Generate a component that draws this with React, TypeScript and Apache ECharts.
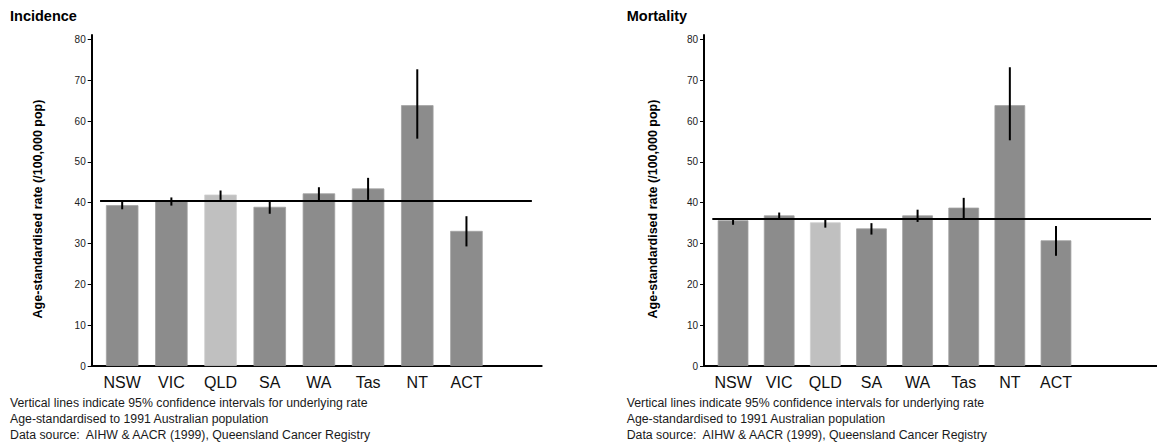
import React, { useEffect, useRef } from "react";
import * as echarts from "echarts";

const states = ["NSW", "VIC", "QLD", "SA", "WA", "Tas", "NT", "ACT"];
const highlightState = "QLD";

const incidenceRate = [39.4, 40.5, 42.0, 39.0, 42.3, 43.5, 63.9, 33.1];
const incidenceLow = [38.4, 39.3, 40.7, 37.3, 40.6, 40.7, 55.7, 29.3];
const incidenceHigh = [40.4, 41.3, 43.0, 40.2, 43.8, 46.1, 72.7, 36.7];
const incidenceAverage = 40.4;

const mortalityRate = [35.7, 36.9, 35.2, 33.7, 36.9, 38.8, 63.9, 30.8];
const mortalityLow = [34.6, 35.8, 33.9, 32.2, 35.3, 36.2, 55.3, 27.0];
const mortalityHigh = [36.2, 37.6, 36.1, 35.0, 38.3, 41.2, 73.2, 34.3];
const mortalityAverage = 36.0;

const yTicks = [0, 10, 20, 30, 40, 50, 60, 70, 80];

const panelTitles = ["Incidence", "Mortality"];
const yAxisTitle = "Age-standardised rate (/100,000 pop)";
const footnotes = [
  "Vertical lines indicate 95% confidence intervals for underlying rate",
  "Age-standardised to 1991 Australian population",
  "Data source:  AIHW & AACR (1999), Queensland Cancer Registry",
];

const FONT = "'Liberation Sans', Arial, Helvetica, sans-serif";
const DARK = "#8c8c8c";
const LIGHT = "#c0c0c0";

export default function App() {
  const ref = useRef<HTMLDivElement>(null);

  useEffect(() => {
    document.body.style.margin = "0";
    if (!ref.current) return;
    const chart = echarts.init(ref.current, null, { renderer: "svg" });

    const panels = [
      {
        rate: incidenceRate,
        low: incidenceLow,
        high: incidenceHigh,
        avg: incidenceAverage,
        grid: { left: 91.7, top: 35, width: 450, height: 331 },
        xMin: -0.62,
        xMax: 8.53,
        avgFrom: -0.45,
        avgTo: 8.33,
        barWidth: 32.5,
        titleX: 10,
        yTitleX: 38,
        noteX: 10,
      },
      {
        rate: mortalityRate,
        low: mortalityLow,
        high: mortalityHigh,
        avg: mortalityAverage,
        grid: { left: 704, top: 35, width: 453, height: 331 },
        xMin: -0.63,
        xMax: 9.19,
        avgFrom: -0.45,
        avgTo: 9.06,
        barWidth: 30.7,
        titleX: 626.7,
        yTitleX: 653,
        noteX: 626.7,
      },
    ];

    const grids: any[] = [];
    const xAxes: any[] = [];
    const yAxes: any[] = [];
    const series: any[] = [];
    const graphics: any[] = [];

    panels.forEach((p, k) => {
      grids.push({ ...p.grid, containLabel: false });
      xAxes.push({
        type: "value",
        gridIndex: k,
        min: p.xMin,
        max: p.xMax,
        axisLine: { show: true, onZero: false, lineStyle: { color: "#000", width: 2 } },
        axisTick: { show: false },
        splitLine: { show: false },
        axisLabel: {
          customValues: states.map((_, i) => i),
          formatter: (v: number) => states[Math.round(v)] ?? "",
          fontSize: 16,
          color: "#111",
          fontFamily: FONT,
          margin: 8,
        },
      });
      yAxes.push({
        type: "value",
        gridIndex: k,
        min: 0,
        max: 81.1,
        axisLine: { show: true, onZero: false, lineStyle: { color: "#000", width: 2 } },
        axisTick: {
          show: true,
          customValues: yTicks,
          length: 4,
          lineStyle: { color: "#000", width: 1 },
        },
        splitLine: { show: false },
        axisLabel: {
          customValues: yTicks,
          fontSize: 10,
          color: "#222",
          fontFamily: FONT,
          margin: 6,
        },
      });
      series.push({
        type: "bar",
        xAxisIndex: k,
        yAxisIndex: k,
        barWidth: p.barWidth,
        data: states.map((s, i) => ({
          value: [i, p.rate[i]],
          itemStyle: {
            color: s === highlightState ? LIGHT : DARK,
            borderColor: s === highlightState ? "#cfcfcf" : "#a2a2a2",
            borderWidth: 0.8,
          },
        })),
      });
      series.push({
        type: "line",
        xAxisIndex: k,
        yAxisIndex: k,
        symbol: "none",
        lineStyle: { color: "#000", width: 2 },
        data: [
          [p.avgFrom, p.avg],
          [p.avgTo, p.avg],
        ],
        z: 3,
      });
      series.push({
        type: "custom",
        xAxisIndex: k,
        yAxisIndex: k,
        encode: { x: 0, y: [1, 2] },
        data: states.map((_, i) => [i, p.low[i], p.high[i]]),
        renderItem: (params: any, api: any) => {
          const a = api.coord([api.value(0), api.value(1)]);
          const b = api.coord([api.value(0), api.value(2)]);
          return {
            type: "line",
            shape: { x1: a[0], y1: a[1], x2: b[0], y2: b[1] },
            style: { stroke: "#000", lineWidth: 2 },
          };
        },
        z: 4,
      });

      graphics.push({
        type: "text",
        left: p.titleX,
        top: 8,
        style: {
          text: panelTitles[k],
          fontSize: 14.5,
          fontWeight: "bold",
          fontFamily: FONT,
          fill: "#000",
        },
      });
      graphics.push({
        type: "text",
        x: p.yTitleX,
        y: 209,
        rotation: Math.PI / 2,
        style: {
          text: yAxisTitle,
          fontSize: 12.5,
          fontWeight: "bold",
          fontFamily: FONT,
          fill: "#000",
          align: "center",
          verticalAlign: "middle",
        },
      });
      footnotes.forEach((t, j) => {
        graphics.push({
          type: "text",
          x: p.noteX,
          y: 403 + j * 16,
          style: {
            text: t,
            fontSize: 12.3,
            fontFamily: FONT,
            fill: "#1a1a1a",
            align: "left",
            verticalAlign: "middle",
          },
        });
      });
    });

    chart.setOption({
      animation: false,
      backgroundColor: "#fff",
      textStyle: { fontFamily: FONT },
      grid: grids,
      xAxis: xAxes,
      yAxis: yAxes,
      series,
      graphic: graphics,
    });

    return () => chart.dispose();
  }, []);

  return <div ref={ref} style={{ width: 1157, height: 445 }} />;
}
